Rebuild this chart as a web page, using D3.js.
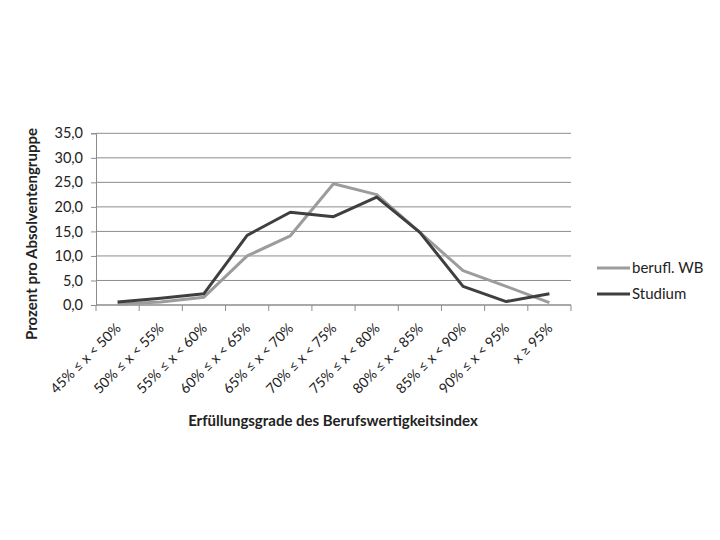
<!DOCTYPE html>
<html><head><meta charset="utf-8">
<script src="https://cdn.jsdelivr.net/npm/d3@7"></script>
<style>body{margin:0;background:#fff;} text{font-family:Lato,"Open Sans",sans-serif;fill:#222;}</style>
</head><body><svg id="c" width="720" height="540"></svg>
<script>
const categories = ["45% ≤ x < 50%","50% ≤ x < 55%","55% ≤ x < 60%","60% ≤ x < 65%","65% ≤ x < 70%","70% ≤ x < 75%","75% ≤ x < 80%","80% ≤ x < 85%","85% ≤ x < 90%","90% ≤ x < 95%","x ≥ 95%"];
const seriesNames = ["berufl. WB","Studium"];
const beruflWB = [0.2, 0.6, 1.6, 10.0, 14.1, 24.7, 22.5, 14.8, 7.0, 3.8, 0.5];
const studium = [0.6, 1.4, 2.3, 14.2, 18.9, 18.0, 22.0, 14.8, 3.8, 0.7, 2.3];
const yTicks = [0,5,10,15,20,25,30,35];

const svg = d3.select("#c");
const x = d3.scaleBand().domain(categories).range([96, 571]);
const y = d3.scaleLinear().domain([0,35]).range([305, 133.3]);
const FONT = "Lato,'Open Sans',sans-serif";

// gridlines
svg.append("g").selectAll("line").data(yTicks).join("line")
  .attr("x1",96).attr("x2",571).attr("y1",d=>y(d)).attr("y2",d=>y(d))
  .attr("stroke","#8c8c8c").attr("stroke-width",1);

// y axis
const ya = svg.append("g").attr("transform","translate(96,0)")
  .call(d3.axisLeft(y).tickValues(yTicks).tickSize(5).tickFormat(d=>d3.format(".1f")(d).replace(".",",")));
ya.select(".domain").attr("stroke","#8c8c8c");
ya.selectAll(".tick line").attr("stroke","#8c8c8c");
ya.selectAll(".tick text").attr("font-size",14.5).attr("font-family",FONT).attr("fill","#222").attr("dx",-5);

// x axis
const xa = svg.append("g").attr("transform","translate(0,305)");
xa.append("line").attr("x1",96).attr("x2",571).attr("stroke","#8c8c8c");
const bounds = categories.map(c=>x(c)).concat([x.range()[1]]);
xa.selectAll("line.t").data(bounds).join("line").attr("class","t")
  .attr("x1",d=>d).attr("x2",d=>d).attr("y1",0).attr("y2",6).attr("stroke","#8c8c8c");
xa.selectAll("text").data(categories).join("text")
  .attr("text-anchor","end").attr("font-size",14)
  .attr("transform",d=>`translate(${x(d)+x.bandwidth()/2+4},${24}) rotate(-45)`)
  .text(d=>d);

const line = d3.line().x((d,i)=>x(categories[i])+x.bandwidth()/2).y(d=>y(d));
svg.append("path").datum(beruflWB).attr("d",line).attr("fill","none").attr("stroke","#9c9c9c").attr("stroke-width",3).attr("stroke-linejoin","round");
svg.append("path").datum(studium).attr("d",line).attr("fill","none").attr("stroke","#3f3f3f").attr("stroke-width",3).attr("stroke-linejoin","round");

// legend
const colors = ["#9c9c9c","#3f3f3f"];
const lg = svg.append("g");
seriesNames.forEach((n,i)=>{
  const yy = 268 + i*26;
  lg.append("line").attr("x1",597).attr("x2",630).attr("y1",yy).attr("y2",yy).attr("stroke",colors[i]).attr("stroke-width",3);
  lg.append("text").attr("x",632).attr("y",yy+5).attr("font-size",15).text(n);
});

// axis titles
svg.append("text").attr("x",333).attr("y",426).attr("text-anchor","middle").attr("font-size",15).attr("font-weight","bold").text("Erfüllungsgrade des Berufswertigkeitsindex");
svg.append("text").attr("transform","translate(37,234) rotate(-90)").attr("text-anchor","middle").attr("font-size",15).attr("font-weight","bold").text("Prozent pro Absolventengruppe");
</script></body></html>
